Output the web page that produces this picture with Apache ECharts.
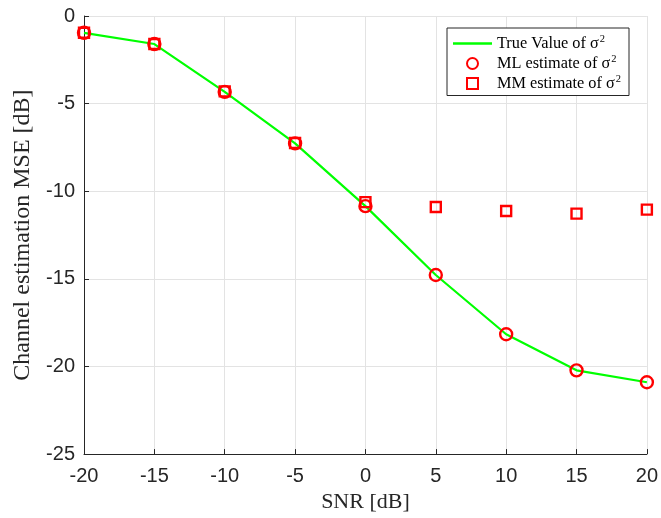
<!DOCTYPE html>
<html><head><meta charset="utf-8">
<script src="https://cdn.jsdelivr.net/npm/echarts@6/dist/echarts.min.js"></script>
<style>html,body{margin:0;padding:0;background:#fff}#c{width:661px;height:518px}</style>
</head><body><div id="c"></div>
<script>
const snr = [-20, -15, -10, -5, 0, 5, 10, 15, 20];
const trueVal = [-0.96, -1.6, -4.33, -7.27, -10.85, -14.78, -18.16, -20.22, -20.9];
const mlEst = [-0.96, -1.6, -4.33, -7.27, -10.85, -14.78, -18.16, -20.22, -20.9];
const mmEst = [-0.96, -1.6, -4.3, -7.25, -10.62, -10.9, -11.13, -11.28, -11.05];
const seriesNames = ['True Value of σ', 'ML estimate of σ', 'MM estimate of σ'];
const xTicks = [-20, -15, -10, -5, 0, 5, 10, 15, 20];
const yTicks = [-25, -20, -15, -10, -5, 0];

const pair = a => snr.map((x, i) => [x, a[i]]);
const axisColor = '#262626';
const chart = echarts.init(document.getElementById('c'));
chart.setOption({
  animation: false,
  backgroundColor: '#fff',
  grid: {left: 84, right: 13, top: 16, bottom: 61},
  xAxis: {
    type: 'value', min: xTicks[0], max: xTicks[xTicks.length - 1], interval: 5,
    name: 'SNR [dB]', nameLocation: 'middle', nameGap: 28,
    nameTextStyle: {fontFamily: 'Liberation Serif', fontSize: 22, color: axisColor},
    axisLine: {show: true, onZero: false, lineStyle: {color: axisColor, width: 1}},
    axisTick: {show: true, inside: true, length: 5, lineStyle: {color: axisColor}},
    axisLabel: {fontFamily: 'Liberation Sans', fontSize: 20, color: axisColor, margin: 12},
    splitLine: {show: true, lineStyle: {color: '#e3e3e3', width: 1}}
  },
  yAxis: {
    type: 'value', min: yTicks[0], max: yTicks[yTicks.length - 1], interval: 5,
    name: 'Channel estimation MSE [dB]', nameLocation: 'middle', nameGap: 48,
    nameTextStyle: {fontFamily: 'Liberation Serif', fontSize: 24, color: axisColor},
    axisLine: {show: true, onZero: false, lineStyle: {color: axisColor, width: 1}},
    axisTick: {show: true, inside: true, length: 5, lineStyle: {color: axisColor}},
    axisLabel: {fontFamily: 'Liberation Sans', fontSize: 20, color: axisColor, margin: 9},
    splitLine: {show: true, lineStyle: {color: '#e3e3e3', width: 1}}
  },
  legend: {
    orient: 'vertical', left: 447, top: 28,
    padding: [6, 8, 4, 6], itemGap: 2.5,
    itemWidth: 39, itemHeight: 11,
    backgroundColor: '#fff', borderColor: axisColor, borderWidth: 1, borderRadius: 0,
    data: [
      {name: seriesNames[0], icon: 'path://M0,0H39V2.4H0Z'},
      {name: seriesNames[1], icon: 'circle'},
      {name: seriesNames[2], icon: 'path://M0,0H10V10H0Z'}
    ],
    formatter: n => '{a|' + n + '}{s|2}',
    textStyle: {
      rich: {
        a: {fontFamily: 'Liberation Serif', fontSize: 16.3, color: '#000', lineHeight: 18},
        s: {fontFamily: 'Liberation Serif', fontSize: 10.5, color: '#000', padding: [0, 0, 8, 1]}
      }
    }
  },
  series: [
    {
      name: seriesNames[0], type: 'line', data: pair(trueVal), symbol: 'none',
      lineStyle: {color: '#00ff00', width: 2.2}, itemStyle: {color: '#00ff00'}, z: 2
    },
    {
      name: seriesNames[1], type: 'scatter', data: pair(mlEst), symbol: 'circle', symbolSize: 12,
      itemStyle: {color: 'rgba(0,0,0,0)', borderColor: '#ff0000', borderWidth: 2.4, opacity: 1}, z: 3
    },
    {
      name: seriesNames[2], type: 'scatter', data: pair(mmEst), symbol: 'rect', symbolSize: 10,
      itemStyle: {color: 'rgba(0,0,0,0)', borderColor: '#ff0000', borderWidth: 2.4, opacity: 1}, z: 4
    }
  ]
});
</script></body></html>
